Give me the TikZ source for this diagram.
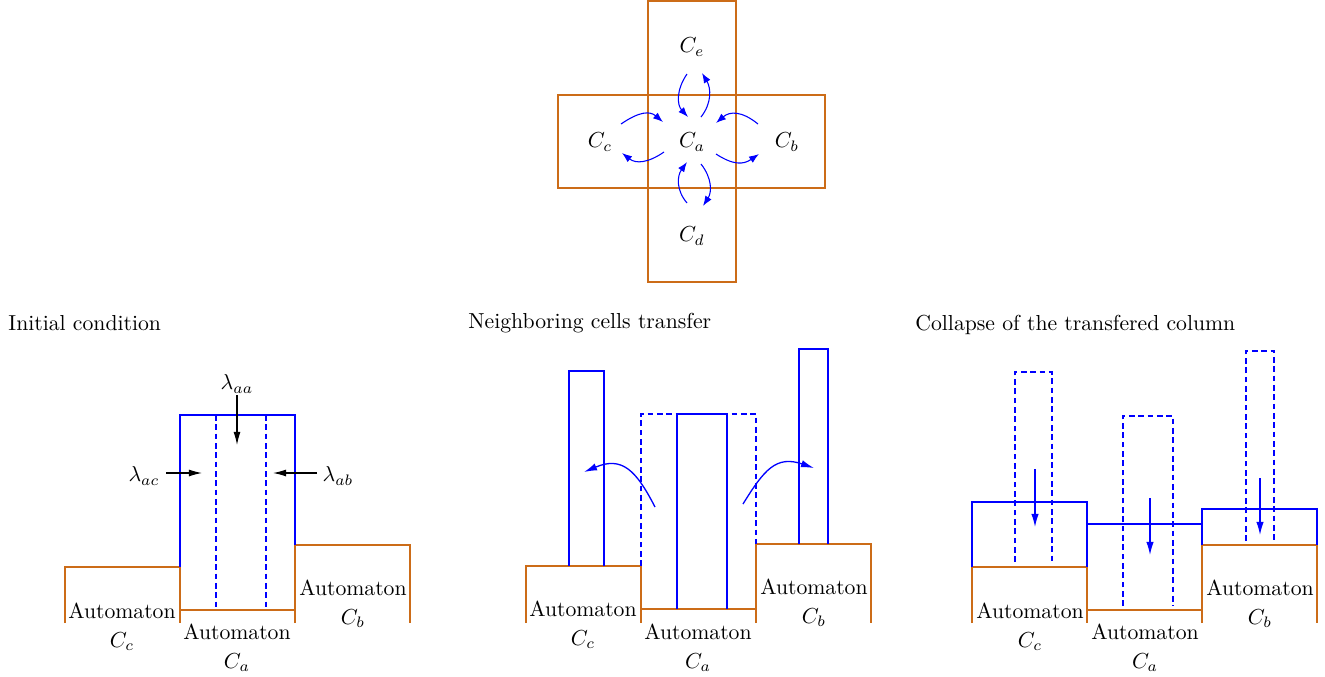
\documentclass[tikz,border=0pt]{standalone}
\usetikzlibrary{arrows.meta}
\definecolor{cellorange}{RGB}{204,108,24}
\definecolor{colblue}{RGB}{0,0,255}
\tikzset{
  cell/.style={draw=cellorange, line width=0.75pt},
  col/.style={draw=colblue, line width=0.75pt},
  dcol/.style={draw=colblue, line width=0.6pt, dash pattern=on 2.6pt off 1.7pt},
  flow/.style={draw=colblue, line width=0.5pt, -{Latex[length=4.6pt,width=3.4pt]}},
  bigflow/.style={draw=colblue, line width=0.6pt, -{Latex[length=6pt,width=3.4pt]}},
  lam/.style={draw=black, line width=0.5pt, -{Latex[length=6pt,width=3.2pt]}},
  lbl/.style={inner sep=0pt, anchor=base},
  ttl/.style={inner sep=0pt, anchor=base west},
}
\begin{document}
\begin{tikzpicture}[x=0.4608pt, y=-0.4608pt]
\useasboundingbox (0,0) rectangle (1325,676);

% ---------- top cross ----------
\draw[cell] (648,1) rectangle (736,282);
\draw[cell] (558,95) rectangle (825,188);
\node (Ce) at (692,47) {$C_e$};
\node (Ca) at (692,142) {$C_a$};
\node (Cc) at (600,142) {$C_c$};
\node (Cb) at (787,142) {$C_b$};
\node (Cd) at (692,236) {$C_d$};
\draw[flow] (621,124) .. controls (640,111) and (650,111) .. (663,122);
\draw[flow] (664,152) .. controls (648,163) and (636,164) .. (622,153);
\draw[flow] (687,74) .. controls (676,90) and (677,105) .. (688,117);
\draw[flow] (701,117) .. controls (712,103) and (711,88) .. (702,73);
\draw[flow] (758,124) .. controls (742,111) and (730,111) .. (716,123);
\draw[flow] (716,154) .. controls (733,165) and (743,165) .. (759,154);
\draw[flow] (687,203) .. controls (676,190) and (677,176) .. (687,162);
\draw[flow] (701,164) .. controls (712,178) and (712,192) .. (703,206);

% ---------- panel 1: initial condition ----------
\node[ttl] (t1) at (8,330) {Initial condition};
\draw[cell] (65,623) -- (65,567) -- (180,567) -- (180,623);
\draw[cell] (180,610) -- (295,610);
\draw[cell] (295,623) -- (295,545) -- (410,545) -- (410,623);
\draw[col] (180,567) -- (180,415) -- (295,415) -- (295,545);
\draw[dcol] (216,415) -- (216,607);
\draw[dcol] (266,415) -- (266,607);
\node (laa) at (237,384) {$\lambda_{aa}$};
\node (lac) at (144,476) {$\lambda_{ac}$};
\node (lab) at (338,476) {$\lambda_{ab}$};
\coordinate (laaE) at (237,445);
\coordinate (lacE) at (202,473);
\coordinate (labE) at (273,473);
\draw[lam] (237,395) -- (laaE);
\draw[lam] (166,473) -- (lacE);
\draw[lam] (317,473) -- (labE);
\node[lbl] (a1c) at (122,618) {Automaton};
\node[lbl] (c1c) at (122,647) {$C_c$};
\node[lbl] (a1a) at (237,639) {Automaton};
\node[lbl] (c1a) at (237,668) {$C_a$};
\node[lbl] (a1b) at (353,595) {Automaton};
\node[lbl] (c1b) at (353,624) {$C_b$};

% ---------- panel 2: neighboring cells transfer ----------
\node[ttl] (t2) at (468,328) {Neighboring cells transfer};
\draw[cell] (526,623) -- (526,566) -- (641,566) -- (641,623);
\draw[cell] (641,609) -- (756,609);
\draw[cell] (756,623) -- (756,544) -- (871,544) -- (871,623);
\draw[dcol] (641,566) -- (641,414) -- (756,414) -- (756,544);
\draw[col] (569,566) -- (569,371) -- (604,371) -- (604,566);
\draw[col] (799,544) -- (799,349) -- (828,349) -- (828,544);
\draw[col] (677,609) -- (677,414) -- (727,414) -- (727,609);
\draw[bigflow] (655,507) .. controls (636,470) and (622,456) .. (584,472);
\draw[bigflow] (743,504) .. controls (764,470) and (776,455) .. (814,468);
\node[lbl] (a2c) at (583,616) {Automaton};
\node[lbl] (c2c) at (583,645) {$C_c$};
\node[lbl] (a2a) at (698,639) {Automaton};
\node[lbl] (c2a) at (698,668) {$C_a$};
\node[lbl] (a2b) at (814,594) {Automaton};
\node[lbl] (c2b) at (814,623) {$C_b$};

% ---------- panel 3: collapse ----------
\node[ttl] (t3) at (915,330) {Collapse of the transfered column};
\draw[cell] (972,623) -- (972,567) -- (1087,567) -- (1087,623);
\draw[cell] (1087,610) -- (1202,610);
\draw[cell] (1202,623) -- (1202,545) -- (1317,545) -- (1317,623);
\draw[col] (972,567) -- (972,502) -- (1087,502) -- (1087,567);
\draw[col] (1087,524) -- (1202,524);
\draw[col] (1202,545) -- (1202,509) -- (1317,509) -- (1317,545);
\draw[dcol] (1015,562) -- (1015,372) -- (1052,372) -- (1052,562);
\draw[dcol] (1123,606) -- (1123,416) -- (1173,416) -- (1173,606);
\draw[dcol] (1246,541) -- (1246,351) -- (1274,351) -- (1274,541);
\draw[bigflow] (1035,469) -- (1035,527);
\draw[bigflow] (1150,498) -- (1150,555);
\draw[bigflow] (1260,478) -- (1260,535);
\node[lbl] (a3c) at (1030,618) {Automaton};
\node[lbl] (c3c) at (1030,647) {$C_c$};
\node[lbl] (a3a) at (1145,639) {Automaton};
\node[lbl] (c3a) at (1145,668) {$C_a$};
\node[lbl] (a3b) at (1260,595) {Automaton};
\node[lbl] (c3b) at (1260,624) {$C_b$};
\end{tikzpicture}
\end{document}
